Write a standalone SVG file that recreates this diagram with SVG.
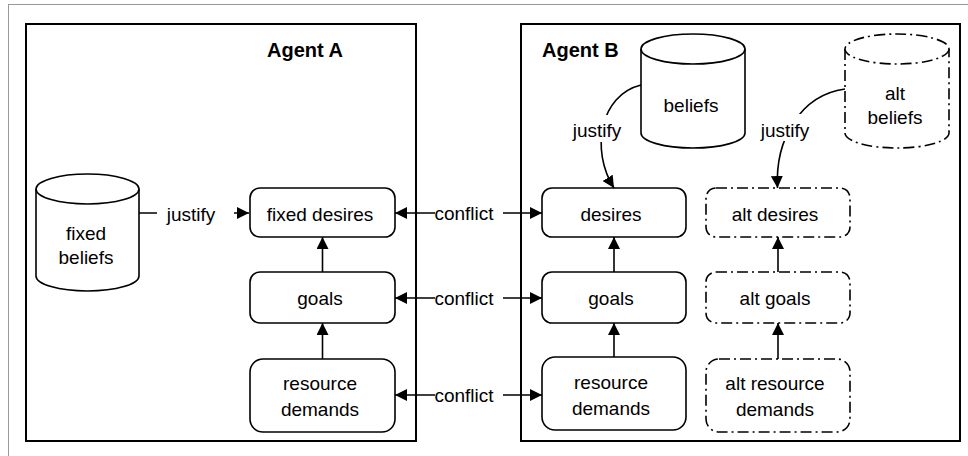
<svg xmlns="http://www.w3.org/2000/svg" width="968" height="456" viewBox="0 0 968 456">
<defs>
<style>
text{font-family:"Liberation Sans",Arial,Helvetica,sans-serif;font-size:19px;fill:#000;text-anchor:middle}
.title{font-weight:bold;font-size:20px;text-anchor:start}
.agent{fill:#fff;stroke:#000;stroke-width:2}
.node{fill:#fff;stroke:#000;stroke-width:1.6}
.alt{fill:#fff;stroke:#000;stroke-width:1.6;stroke-dasharray:11 4 2 4}
.cyl{fill:#fff;stroke:#000;stroke-width:1.6}
.edge{fill:none;stroke:#000;stroke-width:1.6}
.bg{fill:#fff;stroke:none}
</style>
<marker id="ah" viewBox="0 0 12 12" refX="12" refY="6" markerWidth="12" markerHeight="12" markerUnits="userSpaceOnUse" orient="auto-start-reverse">
<path d="M0,0 L12,6 L0,12 z" fill="#000"/>
</marker>
</defs>
<rect x="0" y="0" width="968" height="456" fill="#fff"/>
<rect x="8.5" y="4.5" width="980" height="480" fill="none" stroke="#999" stroke-width="1"/>

<g id="agentA">
<rect class="agent" x="26" y="24" width="390" height="417"/>
<text class="title" x="267" y="57">Agent A</text>
</g>
<g id="agentB">
<rect class="agent" x="521" y="24" width="439" height="417"/>
<text class="title" x="542" y="57">Agent B</text>
</g>

<g id="fixedBeliefs">
<path class="cyl" d="M36,189 L36,276 A51.5,15 0 0 0 139,276 L139,189"/>
<ellipse class="cyl" cx="87.5" cy="189" rx="51.5" ry="15"/>
<text x="86" y="240">fixed</text>
<text x="86" y="264">beliefs</text>
</g>
<g id="beliefs">
<path class="cyl" d="M641,49 L641,133 A52,15 0 0 0 745,133 L745,49"/>
<ellipse class="cyl" cx="693" cy="49" rx="52" ry="15"/>
<text x="691" y="112">beliefs</text>
</g>
<g id="altBeliefs">
<path class="alt" d="M845,49 L845,133 A52,15 0 0 0 949,133 L949,49"/>
<ellipse class="alt" cx="897" cy="49" rx="52" ry="15"/>
<text x="895" y="100">alt</text>
<text x="895" y="124">beliefs</text>
</g>

<g id="fixedDesires">
<rect class="node" x="250" y="188" width="145" height="49" rx="10"/>
<text x="320" y="221">fixed desires</text>
</g>
<g id="goalsA">
<rect class="node" x="250" y="272" width="145" height="51" rx="10"/>
<text x="320" y="305">goals</text>
</g>
<g id="resourceA">
<rect class="node" x="250" y="359" width="145" height="73" rx="13"/>
<text x="320" y="390">resource</text>
<text x="320" y="416">demands</text>
</g>

<g id="desiresB">
<rect class="node" x="542" y="188" width="144" height="49" rx="10"/>
<text x="611" y="221">desires</text>
</g>
<g id="goalsB">
<rect class="node" x="542" y="272" width="144" height="51" rx="10"/>
<text x="611" y="305">goals</text>
</g>
<g id="resourceB">
<rect class="node" x="542" y="357" width="144" height="73" rx="13"/>
<text x="611" y="389">resource</text>
<text x="611" y="415">demands</text>
</g>

<g id="altDesires">
<rect class="alt" x="706" y="188" width="144" height="49" rx="10"/>
<text x="775" y="221">alt desires</text>
</g>
<g id="altGoals">
<rect class="alt" x="706" y="272" width="144" height="51" rx="10"/>
<text x="775" y="305">alt goals</text>
</g>
<g id="altResource">
<rect class="alt" x="706" y="359" width="144" height="73" rx="13"/>
<text x="775" y="390">alt resource</text>
<text x="775" y="416">demands</text>
</g>

<g id="connectors">
<path class="edge" d="M139,213 L249,213" marker-end="url(#ah)"/>
<rect class="bg" x="157" y="200" width="77" height="27"/>
<text x="191" y="221">justify</text>

<path class="edge" d="M322.5,272 L322.5,237" marker-end="url(#ah)"/>
<path class="edge" d="M322.5,359 L322.5,323" marker-end="url(#ah)"/>
<path class="edge" d="M614,272 L614,237" marker-end="url(#ah)"/>
<path class="edge" d="M614,357 L614,323" marker-end="url(#ah)"/>
<path class="edge" d="M778,272 L778,237" marker-end="url(#ah)"/>
<path class="edge" d="M778,359 L778,323" marker-end="url(#ah)"/>

<path class="edge" d="M395,213 L542,213" marker-start="url(#ah)" marker-end="url(#ah)"/>
<rect class="bg" x="435" y="200" width="68" height="27"/>
<text x="464" y="220">conflict</text>
<path class="edge" d="M395,298 L542,298" marker-start="url(#ah)" marker-end="url(#ah)"/>
<rect class="bg" x="435" y="285" width="68" height="27"/>
<text x="464" y="305">conflict</text>
<path class="edge" d="M395,395 L542,395" marker-start="url(#ah)" marker-end="url(#ah)"/>
<rect class="bg" x="435" y="382" width="68" height="27"/>
<text x="464" y="402">conflict</text>

<path class="edge" d="M641,85 C600,95 590,150 614,188" marker-end="url(#ah)"/>
<rect class="bg" x="571" y="115" width="52" height="27"/>
<text x="597" y="137">justify</text>
<path class="edge" d="M845,89 C800,95 775,140 777.5,188" marker-end="url(#ah)"/>
<rect class="bg" x="759" y="114" width="52" height="27"/>
<text x="785" y="137">justify</text>
</g>
</svg>
